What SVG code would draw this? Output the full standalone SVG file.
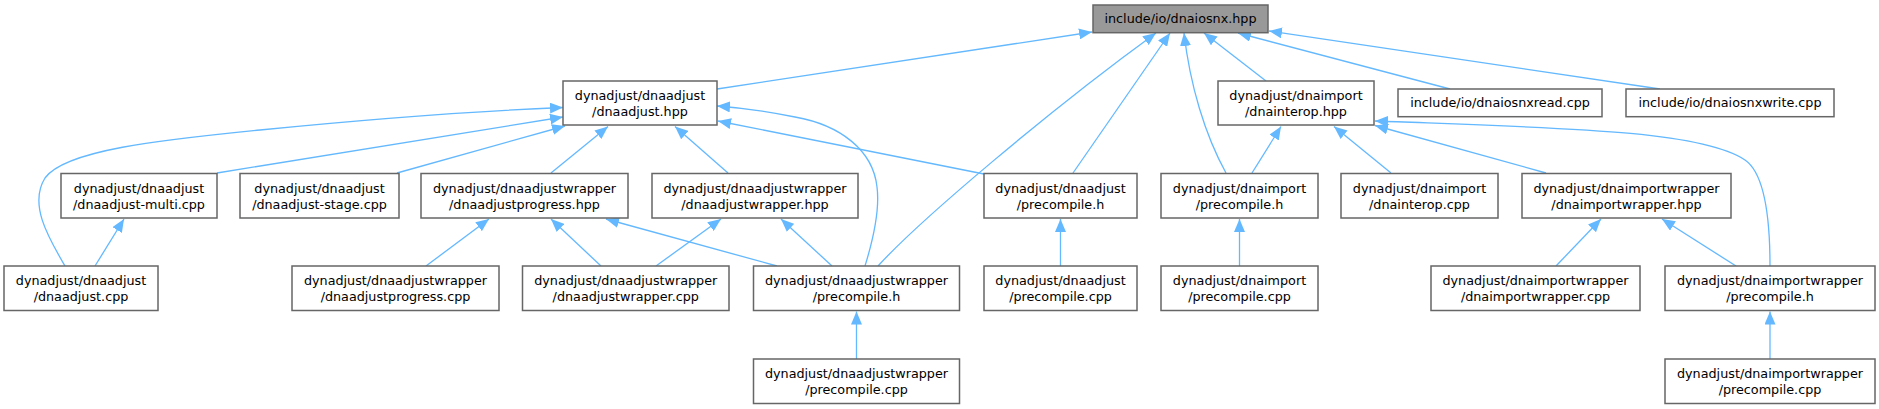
<svg xmlns="http://www.w3.org/2000/svg" width="1879" height="409" viewBox="0 0 1879 409">
<style>
.node rect{fill:#ffffff;stroke:#666666;stroke-width:1.5}
.root rect{fill:#999999}
.node text{font-family:"DejaVu Sans","Liberation Sans",sans-serif;font-size:12.75px;text-anchor:middle;fill:#000000}
.edges path{fill:none;stroke:#63b8ff;stroke-width:1.3;marker-end:url(#arr)}
</style>
<defs>
<marker id="arr" markerUnits="userSpaceOnUse" markerWidth="13" markerHeight="11" refX="13" refY="5.5" orient="auto" viewBox="0 0 13 11">
<path d="M0,0 L13,5.5 L0,11 z" fill="#63b8ff"/>
</marker>
</defs>
<rect width="1879" height="409" fill="#ffffff"/>
<g id="connectors" class="edges">
<path d="M717,89 L1092,32"/>
<path d="M878,266 C920,220 1050,110 1156,33"/>
<path d="M1073,173 L1170,33"/>
<path d="M1226,173 C1205,135 1190,85 1184,33"/>
<path d="M1266,81 L1204,33"/>
<path d="M1450,89 L1238,33"/>
<path d="M1660,89 L1269,31"/>
<path d="M65,266 C50,240 28,205 45,178 C65,150 160,140 260,130 C380,118 480,111 563,107.5"/>
<path d="M217,173 L563,117"/>
<path d="M397,173 L565,126"/>
<path d="M551,173 L608,126.5"/>
<path d="M728,173 L675,126.5"/>
<path d="M865,266 C873,240 880,210 877,187 C873,150 840,125 795,117 C770,112 745,108 717,106"/>
<path d="M984,174 L718,121"/>
<path d="M1252,173 L1281,126.5"/>
<path d="M1391,173 L1334,126.5"/>
<path d="M1546,173 L1375,125.5"/>
<path d="M1770,266 C1770,230 1767,175 1745,160 C1700,130 1560,128 1375,121"/>
<path d="M426,266 L489,219"/>
<path d="M601,266 L551,219"/>
<path d="M777,266 L606,219"/>
<path d="M656,266 L721,219"/>
<path d="M832,266 L781,219"/>
<path d="M95,266 L124,219"/>
<path d="M1060.5,266 L1060.5,219"/>
<path d="M1239.5,266 L1239.5,219"/>
<path d="M1556,266 L1601,219"/>
<path d="M1736,266 L1662,219"/>
<path d="M856.5,359 L856.5,311.5"/>
<path d="M1770,359 L1770,311.5"/>
</g>
<g id="n_dnaiosnx" class="node root"><rect x="1093" y="5" width="175" height="27.7"/><text x="1180.5" y="22.7">include/io/dnaiosnx.hpp</text></g>
<g id="n_dnaadjust_hpp" class="node"><rect x="563" y="81" width="154" height="44"/><text x="640" y="100">dynadjust/dnaadjust</text><text x="640" y="116.4">/dnaadjust.hpp</text></g>
<g id="n_dnainterop_hpp" class="node"><rect x="1218" y="81" width="156" height="44"/><text x="1296" y="100">dynadjust/dnaimport</text><text x="1296" y="116.4">/dnainterop.hpp</text></g>
<g id="n_dnaiosnxread" class="node"><rect x="1398" y="89" width="204" height="27.7"/><text x="1500" y="106.7">include/io/dnaiosnxread.cpp</text></g>
<g id="n_dnaiosnxwrite" class="node"><rect x="1626" y="89" width="208" height="27.7"/><text x="1730" y="106.7">include/io/dnaiosnxwrite.cpp</text></g>
<g id="n_multi" class="node"><rect x="61" y="173.5" width="156" height="44.5"/><text x="139" y="192.5">dynadjust/dnaadjust</text><text x="139" y="208.9">/dnaadjust-multi.cpp</text></g>
<g id="n_stage" class="node"><rect x="240" y="173.5" width="159" height="44.5"/><text x="319.5" y="192.5">dynadjust/dnaadjust</text><text x="319.5" y="208.9">/dnaadjust-stage.cpp</text></g>
<g id="n_progress_hpp" class="node"><rect x="421" y="173.5" width="207" height="44.5"/><text x="524.5" y="192.5">dynadjust/dnaadjustwrapper</text><text x="524.5" y="208.9">/dnaadjustprogress.hpp</text></g>
<g id="n_wrapper_hpp" class="node"><rect x="652" y="173.5" width="206" height="44.5"/><text x="755" y="192.5">dynadjust/dnaadjustwrapper</text><text x="755" y="208.9">/dnaadjustwrapper.hpp</text></g>
<g id="n_adjust_pre_h" class="node"><rect x="984" y="173.5" width="153" height="44.5"/><text x="1060.5" y="192.5">dynadjust/dnaadjust</text><text x="1060.5" y="208.9">/precompile.h</text></g>
<g id="n_import_pre_h" class="node"><rect x="1161" y="173.5" width="157" height="44.5"/><text x="1239.5" y="192.5">dynadjust/dnaimport</text><text x="1239.5" y="208.9">/precompile.h</text></g>
<g id="n_dnainterop_cpp" class="node"><rect x="1341" y="173.5" width="157" height="44.5"/><text x="1419.5" y="192.5">dynadjust/dnaimport</text><text x="1419.5" y="208.9">/dnainterop.cpp</text></g>
<g id="n_importwrapper_hpp" class="node"><rect x="1522" y="173.5" width="209" height="44.5"/><text x="1626.5" y="192.5">dynadjust/dnaimportwrapper</text><text x="1626.5" y="208.9">/dnaimportwrapper.hpp</text></g>
<g id="n_dnaadjust_cpp" class="node"><rect x="4" y="266" width="154" height="44.5"/><text x="81" y="285">dynadjust/dnaadjust</text><text x="81" y="301.4">/dnaadjust.cpp</text></g>
<g id="n_progress_cpp" class="node"><rect x="292" y="266" width="207" height="44.5"/><text x="395.5" y="285">dynadjust/dnaadjustwrapper</text><text x="395.5" y="301.4">/dnaadjustprogress.cpp</text></g>
<g id="n_wrapper_cpp" class="node"><rect x="522.5" y="266" width="206.5" height="44.5"/><text x="625.75" y="285">dynadjust/dnaadjustwrapper</text><text x="625.75" y="301.4">/dnaadjustwrapper.cpp</text></g>
<g id="n_wrapper_pre_h" class="node"><rect x="753.5" y="266" width="206" height="44.5"/><text x="856.5" y="285">dynadjust/dnaadjustwrapper</text><text x="856.5" y="301.4">/precompile.h</text></g>
<g id="n_adjust_pre_cpp" class="node"><rect x="984" y="266" width="153" height="44.5"/><text x="1060.5" y="285">dynadjust/dnaadjust</text><text x="1060.5" y="301.4">/precompile.cpp</text></g>
<g id="n_import_pre_cpp" class="node"><rect x="1161" y="266" width="157" height="44.5"/><text x="1239.5" y="285">dynadjust/dnaimport</text><text x="1239.5" y="301.4">/precompile.cpp</text></g>
<g id="n_importwrapper_cpp" class="node"><rect x="1431" y="266" width="209" height="44.5"/><text x="1535.5" y="285">dynadjust/dnaimportwrapper</text><text x="1535.5" y="301.4">/dnaimportwrapper.cpp</text></g>
<g id="n_importwrapper_pre_h" class="node"><rect x="1665" y="266" width="210" height="44.5"/><text x="1770" y="285">dynadjust/dnaimportwrapper</text><text x="1770" y="301.4">/precompile.h</text></g>
<g id="n_wrapper_pre_cpp" class="node"><rect x="753.5" y="359" width="206" height="44.5"/><text x="856.5" y="378">dynadjust/dnaadjustwrapper</text><text x="856.5" y="394.4">/precompile.cpp</text></g>
<g id="n_importwrapper_pre_cpp" class="node"><rect x="1665" y="359" width="210" height="44.5"/><text x="1770" y="378">dynadjust/dnaimportwrapper</text><text x="1770" y="394.4">/precompile.cpp</text></g>
</svg>
